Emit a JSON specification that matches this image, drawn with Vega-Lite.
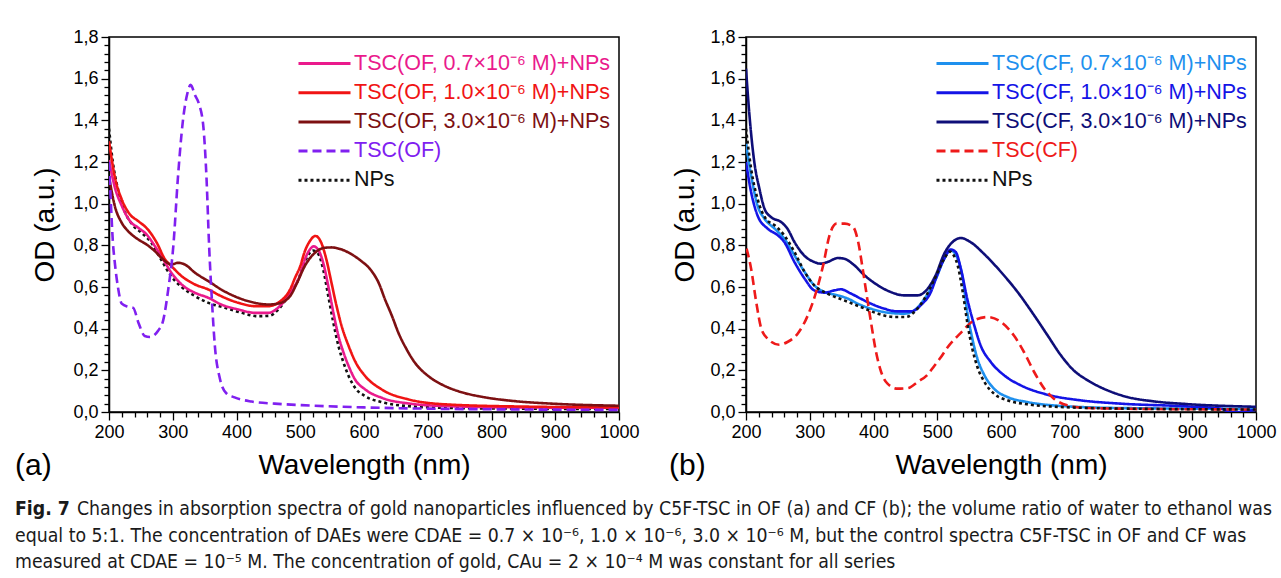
{
  "$schema": "https://vega.github.io/schema/vega-lite/v6.json",
  "background": "white",
  "padding": {"left": 14, "top": 27, "right": 0, "bottom": 0},
  "config": {
    "font": "Liberation Sans",
    "view": {"stroke": "black", "strokeWidth": 1.5},
    "axis": {"grid": false, "domainColor": "black", "domainWidth": 1.5, "tickColor": "black", "tickWidth": 1.3, "labelFont": "Liberation Sans", "labelFontSize": 18, "labelColor": "black", "titleFont": "Liberation Sans", "titleFontSize": 28, "titleFontWeight": "normal", "titleColor": "black", "labelOverlap": false, "labelFlush": false},
    "title": {"font": "Liberation Sans", "fontSize": 30, "fontWeight": "normal", "color": "black"}
  },
  "datasets": {
    "a": [
      {"series":"NPs","wl":200,"od":1.36},{"series":"NPs","wl":206,"od":1.2},{"series":"NPs","wl":214,"od":1.07},{"series":"NPs","wl":225,"od":0.96},{"series":"NPs","wl":238,"od":0.895},{"series":"NPs","wl":251,"od":0.86},{"series":"NPs","wl":267,"od":0.81},{"series":"NPs","wl":282,"od":0.73},{"series":"NPs","wl":298,"od":0.65},{"series":"NPs","wl":314,"od":0.6},{"series":"NPs","wl":335,"od":0.556},{"series":"NPs","wl":356,"od":0.524},{"series":"NPs","wl":382,"od":0.5},{"series":"NPs","wl":408,"od":0.476},{"series":"NPs","wl":434,"od":0.46},{"series":"NPs","wl":452,"od":0.462},{"series":"NPs","wl":465,"od":0.49},{"series":"NPs","wl":481,"od":0.556},{"series":"NPs","wl":497,"od":0.636},{"series":"NPs","wl":507,"od":0.72},{"series":"NPs","wl":520,"od":0.775},{"series":"NPs","wl":528,"od":0.76},{"series":"NPs","wl":536,"od":0.684},{"series":"NPs","wl":544,"od":0.556},{"series":"NPs","wl":552,"od":0.428},{"series":"NPs","wl":560,"od":0.316},{"series":"NPs","wl":568,"od":0.236},{"series":"NPs","wl":576,"od":0.172},{"series":"NPs","wl":586,"od":0.116},{"series":"NPs","wl":602,"od":0.076},{"series":"NPs","wl":628,"od":0.047},{"series":"NPs","wl":670,"od":0.028},{"series":"NPs","wl":732,"od":0.02},{"series":"NPs","wl":850,"od":0.016},{"series":"NPs","wl":1000,"od":0.014},
      {"series":"TSC(OF, 0.7×10⁻⁶ M)+NPs","wl":200,"od":1.21},{"series":"TSC(OF, 0.7×10⁻⁶ M)+NPs","wl":209,"od":1.08},{"series":"TSC(OF, 0.7×10⁻⁶ M)+NPs","wl":220,"od":0.99},{"series":"TSC(OF, 0.7×10⁻⁶ M)+NPs","wl":233,"od":0.916},{"series":"TSC(OF, 0.7×10⁻⁶ M)+NPs","wl":246,"od":0.884},{"series":"TSC(OF, 0.7×10⁻⁶ M)+NPs","wl":259,"od":0.852},{"series":"TSC(OF, 0.7×10⁻⁶ M)+NPs","wl":272,"od":0.796},{"series":"TSC(OF, 0.7×10⁻⁶ M)+NPs","wl":285,"od":0.732},{"series":"TSC(OF, 0.7×10⁻⁶ M)+NPs","wl":298,"od":0.668},{"series":"TSC(OF, 0.7×10⁻⁶ M)+NPs","wl":314,"od":0.612},{"series":"TSC(OF, 0.7×10⁻⁶ M)+NPs","wl":335,"od":0.572},{"series":"TSC(OF, 0.7×10⁻⁶ M)+NPs","wl":356,"od":0.548},{"series":"TSC(OF, 0.7×10⁻⁶ M)+NPs","wl":376,"od":0.516},{"series":"TSC(OF, 0.7×10⁻⁶ M)+NPs","wl":403,"od":0.492},{"series":"TSC(OF, 0.7×10⁻⁶ M)+NPs","wl":429,"od":0.476},{"series":"TSC(OF, 0.7×10⁻⁶ M)+NPs","wl":450,"od":0.476},{"series":"TSC(OF, 0.7×10⁻⁶ M)+NPs","wl":465,"od":0.5},{"series":"TSC(OF, 0.7×10⁻⁶ M)+NPs","wl":484,"od":0.572},{"series":"TSC(OF, 0.7×10⁻⁶ M)+NPs","wl":500,"od":0.66},{"series":"TSC(OF, 0.7×10⁻⁶ M)+NPs","wl":507,"od":0.73},{"series":"TSC(OF, 0.7×10⁻⁶ M)+NPs","wl":514,"od":0.775},{"series":"TSC(OF, 0.7×10⁻⁶ M)+NPs","wl":521,"od":0.795},{"series":"TSC(OF, 0.7×10⁻⁶ M)+NPs","wl":528,"od":0.78},{"series":"TSC(OF, 0.7×10⁻⁶ M)+NPs","wl":536,"od":0.716},{"series":"TSC(OF, 0.7×10⁻⁶ M)+NPs","wl":544,"od":0.604},{"series":"TSC(OF, 0.7×10⁻⁶ M)+NPs","wl":552,"od":0.476},{"series":"TSC(OF, 0.7×10⁻⁶ M)+NPs","wl":560,"od":0.364},{"series":"TSC(OF, 0.7×10⁻⁶ M)+NPs","wl":568,"od":0.284},{"series":"TSC(OF, 0.7×10⁻⁶ M)+NPs","wl":576,"od":0.22},{"series":"TSC(OF, 0.7×10⁻⁶ M)+NPs","wl":586,"od":0.156},{"series":"TSC(OF, 0.7×10⁻⁶ M)+NPs","wl":602,"od":0.108},{"series":"TSC(OF, 0.7×10⁻⁶ M)+NPs","wl":628,"od":0.068},{"series":"TSC(OF, 0.7×10⁻⁶ M)+NPs","wl":670,"od":0.041},{"series":"TSC(OF, 0.7×10⁻⁶ M)+NPs","wl":732,"od":0.028},{"series":"TSC(OF, 0.7×10⁻⁶ M)+NPs","wl":850,"od":0.022},{"series":"TSC(OF, 0.7×10⁻⁶ M)+NPs","wl":1000,"od":0.02},
      {"series":"TSC(OF, 1.0×10⁻⁶ M)+NPs","wl":200,"od":1.3},{"series":"TSC(OF, 1.0×10⁻⁶ M)+NPs","wl":209,"od":1.13},{"series":"TSC(OF, 1.0×10⁻⁶ M)+NPs","wl":220,"od":1.02},{"series":"TSC(OF, 1.0×10⁻⁶ M)+NPs","wl":233,"od":0.948},{"series":"TSC(OF, 1.0×10⁻⁶ M)+NPs","wl":246,"od":0.916},{"series":"TSC(OF, 1.0×10⁻⁶ M)+NPs","wl":261,"od":0.876},{"series":"TSC(OF, 1.0×10⁻⁶ M)+NPs","wl":275,"od":0.812},{"series":"TSC(OF, 1.0×10⁻⁶ M)+NPs","wl":288,"od":0.732},{"series":"TSC(OF, 1.0×10⁻⁶ M)+NPs","wl":298,"od":0.7},{"series":"TSC(OF, 1.0×10⁻⁶ M)+NPs","wl":314,"od":0.652},{"series":"TSC(OF, 1.0×10⁻⁶ M)+NPs","wl":335,"od":0.612},{"series":"TSC(OF, 1.0×10⁻⁶ M)+NPs","wl":356,"od":0.588},{"series":"TSC(OF, 1.0×10⁻⁶ M)+NPs","wl":376,"od":0.556},{"series":"TSC(OF, 1.0×10⁻⁶ M)+NPs","wl":403,"od":0.524},{"series":"TSC(OF, 1.0×10⁻⁶ M)+NPs","wl":429,"od":0.508},{"series":"TSC(OF, 1.0×10⁻⁶ M)+NPs","wl":450,"od":0.508},{"series":"TSC(OF, 1.0×10⁻⁶ M)+NPs","wl":465,"od":0.524},{"series":"TSC(OF, 1.0×10⁻⁶ M)+NPs","wl":484,"od":0.588},{"series":"TSC(OF, 1.0×10⁻⁶ M)+NPs","wl":492,"od":0.645},{"series":"TSC(OF, 1.0×10⁻⁶ M)+NPs","wl":500,"od":0.7},{"series":"TSC(OF, 1.0×10⁻⁶ M)+NPs","wl":507,"od":0.77},{"series":"TSC(OF, 1.0×10⁻⁶ M)+NPs","wl":515,"od":0.82},{"series":"TSC(OF, 1.0×10⁻⁶ M)+NPs","wl":524,"od":0.845},{"series":"TSC(OF, 1.0×10⁻⁶ M)+NPs","wl":533,"od":0.812},{"series":"TSC(OF, 1.0×10⁻⁶ M)+NPs","wl":541,"od":0.732},{"series":"TSC(OF, 1.0×10⁻⁶ M)+NPs","wl":549,"od":0.62},{"series":"TSC(OF, 1.0×10⁻⁶ M)+NPs","wl":557,"od":0.508},{"series":"TSC(OF, 1.0×10⁻⁶ M)+NPs","wl":565,"od":0.412},{"series":"TSC(OF, 1.0×10⁻⁶ M)+NPs","wl":576,"od":0.316},{"series":"TSC(OF, 1.0×10⁻⁶ M)+NPs","wl":586,"od":0.244},{"series":"TSC(OF, 1.0×10⁻⁶ M)+NPs","wl":602,"od":0.172},{"series":"TSC(OF, 1.0×10⁻⁶ M)+NPs","wl":628,"od":0.108},{"series":"TSC(OF, 1.0×10⁻⁶ M)+NPs","wl":670,"od":0.06},{"series":"TSC(OF, 1.0×10⁻⁶ M)+NPs","wl":732,"od":0.036},{"series":"TSC(OF, 1.0×10⁻⁶ M)+NPs","wl":850,"od":0.026},{"series":"TSC(OF, 1.0×10⁻⁶ M)+NPs","wl":1000,"od":0.022},
      {"series":"TSC(OF, 3.0×10⁻⁶ M)+NPs","wl":200,"od":1.13},{"series":"TSC(OF, 3.0×10⁻⁶ M)+NPs","wl":209,"od":0.99},{"series":"TSC(OF, 3.0×10⁻⁶ M)+NPs","wl":220,"od":0.908},{"series":"TSC(OF, 3.0×10⁻⁶ M)+NPs","wl":230,"od":0.868},{"series":"TSC(OF, 3.0×10⁻⁶ M)+NPs","wl":246,"od":0.828},{"series":"TSC(OF, 3.0×10⁻⁶ M)+NPs","wl":259,"od":0.804},{"series":"TSC(OF, 3.0×10⁻⁶ M)+NPs","wl":272,"od":0.772},{"series":"TSC(OF, 3.0×10⁻⁶ M)+NPs","wl":285,"od":0.732},{"series":"TSC(OF, 3.0×10⁻⁶ M)+NPs","wl":298,"od":0.708},{"series":"TSC(OF, 3.0×10⁻⁶ M)+NPs","wl":308,"od":0.716},{"series":"TSC(OF, 3.0×10⁻⁶ M)+NPs","wl":319,"od":0.708},{"series":"TSC(OF, 3.0×10⁻⁶ M)+NPs","wl":335,"od":0.668},{"series":"TSC(OF, 3.0×10⁻⁶ M)+NPs","wl":356,"od":0.628},{"series":"TSC(OF, 3.0×10⁻⁶ M)+NPs","wl":376,"od":0.588},{"series":"TSC(OF, 3.0×10⁻⁶ M)+NPs","wl":403,"od":0.548},{"series":"TSC(OF, 3.0×10⁻⁶ M)+NPs","wl":429,"od":0.524},{"series":"TSC(OF, 3.0×10⁻⁶ M)+NPs","wl":450,"od":0.516},{"series":"TSC(OF, 3.0×10⁻⁶ M)+NPs","wl":465,"od":0.52},{"series":"TSC(OF, 3.0×10⁻⁶ M)+NPs","wl":484,"od":0.556},{"series":"TSC(OF, 3.0×10⁻⁶ M)+NPs","wl":495,"od":0.62},{"series":"TSC(OF, 3.0×10⁻⁶ M)+NPs","wl":507,"od":0.7},{"series":"TSC(OF, 3.0×10⁻⁶ M)+NPs","wl":523,"od":0.764},{"series":"TSC(OF, 3.0×10⁻⁶ M)+NPs","wl":538,"od":0.788},{"series":"TSC(OF, 3.0×10⁻⁶ M)+NPs","wl":549,"od":0.79},{"series":"TSC(OF, 3.0×10⁻⁶ M)+NPs","wl":565,"od":0.78},{"series":"TSC(OF, 3.0×10⁻⁶ M)+NPs","wl":581,"od":0.756},{"series":"TSC(OF, 3.0×10⁻⁶ M)+NPs","wl":596,"od":0.724},{"series":"TSC(OF, 3.0×10⁻⁶ M)+NPs","wl":610,"od":0.684},{"series":"TSC(OF, 3.0×10⁻⁶ M)+NPs","wl":623,"od":0.62},{"series":"TSC(OF, 3.0×10⁻⁶ M)+NPs","wl":633,"od":0.54},{"series":"TSC(OF, 3.0×10⁻⁶ M)+NPs","wl":644,"od":0.46},{"series":"TSC(OF, 3.0×10⁻⁶ M)+NPs","wl":654,"od":0.38},{"series":"TSC(OF, 3.0×10⁻⁶ M)+NPs","wl":667,"od":0.3},{"series":"TSC(OF, 3.0×10⁻⁶ M)+NPs","wl":680,"od":0.236},{"series":"TSC(OF, 3.0×10⁻⁶ M)+NPs","wl":701,"od":0.172},{"series":"TSC(OF, 3.0×10⁻⁶ M)+NPs","wl":722,"od":0.132},{"series":"TSC(OF, 3.0×10⁻⁶ M)+NPs","wl":753,"od":0.095},{"series":"TSC(OF, 3.0×10⁻⁶ M)+NPs","wl":785,"od":0.073},{"series":"TSC(OF, 3.0×10⁻⁶ M)+NPs","wl":837,"od":0.052},{"series":"TSC(OF, 3.0×10⁻⁶ M)+NPs","wl":889,"od":0.041},{"series":"TSC(OF, 3.0×10⁻⁶ M)+NPs","wl":1000,"od":0.03},
      {"series":"TSC(OF)","wl":200,"od":1.2},{"series":"TSC(OF)","wl":203,"od":1.0},{"series":"TSC(OF)","wl":206,"od":0.82},{"series":"TSC(OF)","wl":209,"od":0.72},{"series":"TSC(OF)","wl":214,"od":0.6},{"series":"TSC(OF)","wl":220,"od":0.52},{"series":"TSC(OF)","wl":230,"od":0.505},{"series":"TSC(OF)","wl":238,"od":0.5},{"series":"TSC(OF)","wl":246,"od":0.43},{"series":"TSC(OF)","wl":256,"od":0.365},{"series":"TSC(OF)","wl":264,"od":0.36},{"series":"TSC(OF)","wl":277,"od":0.39},{"series":"TSC(OF)","wl":285,"od":0.44},{"series":"TSC(OF)","wl":293,"od":0.59},{"series":"TSC(OF)","wl":301,"od":0.8},{"series":"TSC(OF)","wl":308,"od":1.12},{"series":"TSC(OF)","wl":316,"od":1.4},{"series":"TSC(OF)","wl":323,"od":1.53},{"series":"TSC(OF)","wl":328,"od":1.57},{"series":"TSC(OF)","wl":335,"od":1.52},{"series":"TSC(OF)","wl":341,"od":1.48},{"series":"TSC(OF)","wl":348,"od":1.37},{"series":"TSC(OF)","wl":353,"od":1.12},{"series":"TSC(OF)","wl":357,"od":0.8},{"series":"TSC(OF)","wl":361,"od":0.56},{"series":"TSC(OF)","wl":366,"od":0.32},{"series":"TSC(OF)","wl":374,"od":0.16},{"series":"TSC(OF)","wl":384,"od":0.09},{"series":"TSC(OF)","wl":397,"od":0.07},{"series":"TSC(OF)","wl":424,"od":0.05},{"series":"TSC(OF)","wl":460,"od":0.04},{"series":"TSC(OF)","wl":502,"od":0.033},{"series":"TSC(OF)","wl":600,"od":0.022},{"series":"TSC(OF)","wl":700,"od":0.016},{"series":"TSC(OF)","wl":850,"od":0.012},{"series":"TSC(OF)","wl":1000,"od":0.01}
    ],
    "b": [
      {"series":"TSC(CF, 0.7×10⁻⁶ M)+NPs","wl":200,"od":1.288},{"series":"TSC(CF, 0.7×10⁻⁶ M)+NPs","wl":208,"od":1.136},{"series":"TSC(CF, 0.7×10⁻⁶ M)+NPs","wl":218,"od":0.992},{"series":"TSC(CF, 0.7×10⁻⁶ M)+NPs","wl":229,"od":0.928},{"series":"TSC(CF, 0.7×10⁻⁶ M)+NPs","wl":245,"od":0.88},{"series":"TSC(CF, 0.7×10⁻⁶ M)+NPs","wl":260,"od":0.832},{"series":"TSC(CF, 0.7×10⁻⁶ M)+NPs","wl":276,"od":0.752},{"series":"TSC(CF, 0.7×10⁻⁶ M)+NPs","wl":292,"od":0.672},{"series":"TSC(CF, 0.7×10⁻⁶ M)+NPs","wl":307,"od":0.608},{"series":"TSC(CF, 0.7×10⁻⁶ M)+NPs","wl":323,"od":0.576},{"series":"TSC(CF, 0.7×10⁻⁶ M)+NPs","wl":344,"od":0.56},{"series":"TSC(CF, 0.7×10⁻⁶ M)+NPs","wl":360,"od":0.544},{"series":"TSC(CF, 0.7×10⁻⁶ M)+NPs","wl":375,"od":0.52},{"series":"TSC(CF, 0.7×10⁻⁶ M)+NPs","wl":396,"od":0.496},{"series":"TSC(CF, 0.7×10⁻⁶ M)+NPs","wl":422,"od":0.477},{"series":"TSC(CF, 0.7×10⁻⁶ M)+NPs","wl":448,"od":0.472},{"series":"TSC(CF, 0.7×10⁻⁶ M)+NPs","wl":464,"od":0.488},{"series":"TSC(CF, 0.7×10⁻⁶ M)+NPs","wl":480,"od":0.544},{"series":"TSC(CF, 0.7×10⁻⁶ M)+NPs","wl":498,"od":0.64},{"series":"TSC(CF, 0.7×10⁻⁶ M)+NPs","wl":510,"od":0.73},{"series":"TSC(CF, 0.7×10⁻⁶ M)+NPs","wl":521,"od":0.776},{"series":"TSC(CF, 0.7×10⁻⁶ M)+NPs","wl":532,"od":0.736},{"series":"TSC(CF, 0.7×10⁻⁶ M)+NPs","wl":540,"od":0.64},{"series":"TSC(CF, 0.7×10⁻⁶ M)+NPs","wl":547,"od":0.48},{"series":"TSC(CF, 0.7×10⁻⁶ M)+NPs","wl":555,"od":0.352},{"series":"TSC(CF, 0.7×10⁻⁶ M)+NPs","wl":563,"od":0.256},{"series":"TSC(CF, 0.7×10⁻⁶ M)+NPs","wl":574,"od":0.176},{"series":"TSC(CF, 0.7×10⁻⁶ M)+NPs","wl":589,"od":0.112},{"series":"TSC(CF, 0.7×10⁻⁶ M)+NPs","wl":610,"od":0.072},{"series":"TSC(CF, 0.7×10⁻⁶ M)+NPs","wl":641,"od":0.048},{"series":"TSC(CF, 0.7×10⁻⁶ M)+NPs","wl":694,"od":0.029},{"series":"TSC(CF, 0.7×10⁻⁶ M)+NPs","wl":788,"od":0.019},{"series":"TSC(CF, 0.7×10⁻⁶ M)+NPs","wl":1000,"od":0.015},
      {"series":"TSC(CF, 1.0×10⁻⁶ M)+NPs","wl":200,"od":1.2},{"series":"TSC(CF, 1.0×10⁻⁶ M)+NPs","wl":208,"od":1.056},{"series":"TSC(CF, 1.0×10⁻⁶ M)+NPs","wl":218,"od":0.944},{"series":"TSC(CF, 1.0×10⁻⁶ M)+NPs","wl":234,"od":0.88},{"series":"TSC(CF, 1.0×10⁻⁶ M)+NPs","wl":250,"od":0.848},{"series":"TSC(CF, 1.0×10⁻⁶ M)+NPs","wl":260,"od":0.816},{"series":"TSC(CF, 1.0×10⁻⁶ M)+NPs","wl":276,"od":0.72},{"series":"TSC(CF, 1.0×10⁻⁶ M)+NPs","wl":292,"od":0.64},{"series":"TSC(CF, 1.0×10⁻⁶ M)+NPs","wl":307,"od":0.584},{"series":"TSC(CF, 1.0×10⁻⁶ M)+NPs","wl":323,"od":0.573},{"series":"TSC(CF, 1.0×10⁻⁶ M)+NPs","wl":339,"od":0.584},{"series":"TSC(CF, 1.0×10⁻⁶ M)+NPs","wl":349,"od":0.589},{"series":"TSC(CF, 1.0×10⁻⁶ M)+NPs","wl":365,"od":0.568},{"series":"TSC(CF, 1.0×10⁻⁶ M)+NPs","wl":380,"od":0.544},{"series":"TSC(CF, 1.0×10⁻⁶ M)+NPs","wl":396,"od":0.52},{"series":"TSC(CF, 1.0×10⁻⁶ M)+NPs","wl":417,"od":0.496},{"series":"TSC(CF, 1.0×10⁻⁶ M)+NPs","wl":438,"od":0.483},{"series":"TSC(CF, 1.0×10⁻⁶ M)+NPs","wl":459,"od":0.483},{"series":"TSC(CF, 1.0×10⁻⁶ M)+NPs","wl":475,"od":0.515},{"series":"TSC(CF, 1.0×10⁻⁶ M)+NPs","wl":490,"od":0.576},{"series":"TSC(CF, 1.0×10⁻⁶ M)+NPs","wl":499,"od":0.65},{"series":"TSC(CF, 1.0×10⁻⁶ M)+NPs","wl":511,"od":0.736},{"series":"TSC(CF, 1.0×10⁻⁶ M)+NPs","wl":521,"od":0.78},{"series":"TSC(CF, 1.0×10⁻⁶ M)+NPs","wl":529,"od":0.768},{"series":"TSC(CF, 1.0×10⁻⁶ M)+NPs","wl":537,"od":0.688},{"series":"TSC(CF, 1.0×10⁻⁶ M)+NPs","wl":547,"od":0.544},{"series":"TSC(CF, 1.0×10⁻⁶ M)+NPs","wl":558,"od":0.416},{"series":"TSC(CF, 1.0×10⁻⁶ M)+NPs","wl":568,"od":0.32},{"series":"TSC(CF, 1.0×10⁻⁶ M)+NPs","wl":584,"od":0.24},{"series":"TSC(CF, 1.0×10⁻⁶ M)+NPs","wl":605,"od":0.176},{"series":"TSC(CF, 1.0×10⁻⁶ M)+NPs","wl":631,"od":0.128},{"series":"TSC(CF, 1.0×10⁻⁶ M)+NPs","wl":673,"od":0.083},{"series":"TSC(CF, 1.0×10⁻⁶ M)+NPs","wl":725,"od":0.056},{"series":"TSC(CF, 1.0×10⁻⁶ M)+NPs","wl":788,"od":0.04},{"series":"TSC(CF, 1.0×10⁻⁶ M)+NPs","wl":892,"od":0.027},{"series":"TSC(CF, 1.0×10⁻⁶ M)+NPs","wl":945,"od":0.016},{"series":"TSC(CF, 1.0×10⁻⁶ M)+NPs","wl":960,"od":0.0},{"series":"TSC(CF, 1.0×10⁻⁶ M)+NPs","wl":975,"od":0.0},{"series":"TSC(CF, 1.0×10⁻⁶ M)+NPs","wl":986,"od":0.005},{"series":"TSC(CF, 1.0×10⁻⁶ M)+NPs","wl":1000,"od":0.01},
      {"series":"TSC(CF, 3.0×10⁻⁶ M)+NPs","wl":200,"od":1.648},{"series":"TSC(CF, 3.0×10⁻⁶ M)+NPs","wl":205,"od":1.44},{"series":"TSC(CF, 3.0×10⁻⁶ M)+NPs","wl":213,"od":1.2},{"series":"TSC(CF, 3.0×10⁻⁶ M)+NPs","wl":221,"od":1.072},{"series":"TSC(CF, 3.0×10⁻⁶ M)+NPs","wl":229,"od":0.976},{"series":"TSC(CF, 3.0×10⁻⁶ M)+NPs","wl":239,"od":0.936},{"series":"TSC(CF, 3.0×10⁻⁶ M)+NPs","wl":255,"od":0.912},{"series":"TSC(CF, 3.0×10⁻⁶ M)+NPs","wl":265,"od":0.88},{"series":"TSC(CF, 3.0×10⁻⁶ M)+NPs","wl":276,"od":0.816},{"series":"TSC(CF, 3.0×10⁻⁶ M)+NPs","wl":291,"od":0.752},{"series":"TSC(CF, 3.0×10⁻⁶ M)+NPs","wl":307,"od":0.72},{"series":"TSC(CF, 3.0×10⁻⁶ M)+NPs","wl":317,"od":0.712},{"series":"TSC(CF, 3.0×10⁻⁶ M)+NPs","wl":328,"od":0.72},{"series":"TSC(CF, 3.0×10⁻⁶ M)+NPs","wl":344,"od":0.739},{"series":"TSC(CF, 3.0×10⁻⁶ M)+NPs","wl":354,"od":0.736},{"series":"TSC(CF, 3.0×10⁻⁶ M)+NPs","wl":370,"od":0.704},{"series":"TSC(CF, 3.0×10⁻⁶ M)+NPs","wl":386,"od":0.656},{"series":"TSC(CF, 3.0×10⁻⁶ M)+NPs","wl":407,"od":0.608},{"series":"TSC(CF, 3.0×10⁻⁶ M)+NPs","wl":427,"od":0.576},{"series":"TSC(CF, 3.0×10⁻⁶ M)+NPs","wl":448,"od":0.56},{"series":"TSC(CF, 3.0×10⁻⁶ M)+NPs","wl":469,"od":0.56},{"series":"TSC(CF, 3.0×10⁻⁶ M)+NPs","wl":485,"od":0.592},{"series":"TSC(CF, 3.0×10⁻⁶ M)+NPs","wl":498,"od":0.66},{"series":"TSC(CF, 3.0×10⁻⁶ M)+NPs","wl":511,"od":0.76},{"series":"TSC(CF, 3.0×10⁻⁶ M)+NPs","wl":524,"od":0.816},{"series":"TSC(CF, 3.0×10⁻⁶ M)+NPs","wl":537,"od":0.835},{"series":"TSC(CF, 3.0×10⁻⁶ M)+NPs","wl":552,"od":0.816},{"series":"TSC(CF, 3.0×10⁻⁶ M)+NPs","wl":573,"od":0.76},{"series":"TSC(CF, 3.0×10⁻⁶ M)+NPs","wl":600,"od":0.672},{"series":"TSC(CF, 3.0×10⁻⁶ M)+NPs","wl":626,"od":0.576},{"series":"TSC(CF, 3.0×10⁻⁶ M)+NPs","wl":652,"od":0.464},{"series":"TSC(CF, 3.0×10⁻⁶ M)+NPs","wl":673,"od":0.368},{"series":"TSC(CF, 3.0×10⁻⁶ M)+NPs","wl":694,"od":0.272},{"series":"TSC(CF, 3.0×10⁻⁶ M)+NPs","wl":714,"od":0.2},{"series":"TSC(CF, 3.0×10⁻⁶ M)+NPs","wl":736,"od":0.152},{"series":"TSC(CF, 3.0×10⁻⁶ M)+NPs","wl":767,"od":0.104},{"series":"TSC(CF, 3.0×10⁻⁶ M)+NPs","wl":798,"od":0.072},{"series":"TSC(CF, 3.0×10⁻⁶ M)+NPs","wl":840,"od":0.051},{"series":"TSC(CF, 3.0×10⁻⁶ M)+NPs","wl":892,"od":0.038},{"series":"TSC(CF, 3.0×10⁻⁶ M)+NPs","wl":1000,"od":0.025},
      {"series":"TSC(CF)","wl":201,"od":0.784},{"series":"TSC(CF)","wl":208,"od":0.688},{"series":"TSC(CF)","wl":216,"od":0.528},{"series":"TSC(CF)","wl":224,"od":0.4},{"series":"TSC(CF)","wl":234,"od":0.352},{"series":"TSC(CF)","wl":252,"od":0.323},{"series":"TSC(CF)","wl":265,"od":0.336},{"series":"TSC(CF)","wl":281,"od":0.376},{"series":"TSC(CF)","wl":297,"od":0.464},{"series":"TSC(CF)","wl":310,"od":0.576},{"series":"TSC(CF)","wl":321,"od":0.704},{"series":"TSC(CF)","wl":331,"od":0.848},{"series":"TSC(CF)","wl":342,"od":0.904},{"series":"TSC(CF)","wl":355,"od":0.904},{"series":"TSC(CF)","wl":368,"od":0.888},{"series":"TSC(CF)","wl":376,"od":0.816},{"series":"TSC(CF)","wl":383,"od":0.688},{"series":"TSC(CF)","wl":391,"od":0.528},{"series":"TSC(CF)","wl":396,"od":0.432},{"series":"TSC(CF)","wl":404,"od":0.288},{"series":"TSC(CF)","wl":412,"od":0.192},{"series":"TSC(CF)","wl":422,"od":0.136},{"series":"TSC(CF)","wl":438,"od":0.112},{"series":"TSC(CF)","wl":454,"od":0.115},{"series":"TSC(CF)","wl":469,"od":0.144},{"series":"TSC(CF)","wl":485,"od":0.18},{"series":"TSC(CF)","wl":495,"od":0.22},{"series":"TSC(CF)","wl":505,"od":0.26},{"series":"TSC(CF)","wl":516,"od":0.31},{"series":"TSC(CF)","wl":537,"od":0.38},{"series":"TSC(CF)","wl":558,"od":0.44},{"series":"TSC(CF)","wl":579,"od":0.456},{"series":"TSC(CF)","wl":600,"od":0.432},{"series":"TSC(CF)","wl":620,"od":0.368},{"series":"TSC(CF)","wl":636,"od":0.288},{"series":"TSC(CF)","wl":652,"od":0.192},{"series":"TSC(CF)","wl":668,"od":0.112},{"series":"TSC(CF)","wl":683,"od":0.064},{"series":"TSC(CF)","wl":704,"od":0.032},{"series":"TSC(CF)","wl":736,"od":0.019},{"series":"TSC(CF)","wl":788,"od":0.016},{"series":"TSC(CF)","wl":1000,"od":0.012},
      {"series":"NPs","wl":200,"od":1.36},{"series":"NPs","wl":208,"od":1.168},{"series":"NPs","wl":218,"od":1.024},{"series":"NPs","wl":231,"od":0.928},{"series":"NPs","wl":245,"od":0.896},{"series":"NPs","wl":260,"od":0.848},{"series":"NPs","wl":276,"od":0.768},{"series":"NPs","wl":292,"od":0.672},{"series":"NPs","wl":307,"od":0.608},{"series":"NPs","wl":328,"od":0.568},{"series":"NPs","wl":354,"od":0.536},{"series":"NPs","wl":380,"od":0.504},{"series":"NPs","wl":407,"od":0.472},{"series":"NPs","wl":433,"od":0.456},{"series":"NPs","wl":451,"od":0.456},{"series":"NPs","wl":464,"od":0.48},{"series":"NPs","wl":480,"od":0.544},{"series":"NPs","wl":496,"od":0.64},{"series":"NPs","wl":510,"od":0.73},{"series":"NPs","wl":520,"od":0.77},{"series":"NPs","wl":524,"od":0.76},{"series":"NPs","wl":532,"od":0.704},{"series":"NPs","wl":540,"od":0.576},{"series":"NPs","wl":547,"od":0.432},{"series":"NPs","wl":555,"od":0.304},{"series":"NPs","wl":563,"od":0.216},{"series":"NPs","wl":574,"od":0.144},{"series":"NPs","wl":589,"od":0.088},{"series":"NPs","wl":610,"od":0.056},{"series":"NPs","wl":641,"od":0.037},{"series":"NPs","wl":694,"od":0.024},{"series":"NPs","wl":800,"od":0.016},{"series":"NPs","wl":1000,"od":0.012}
    ],
    "caption": [
      {"line": 1, "part": "bold", "text": "Fig. 7"},
      {"line": 1, "part": "rest", "text": "Changes in absorption spectra of gold nanoparticles influenced by C5F-TSC in OF (a) and CF (b); the volume ratio of water to ethanol was"},
      {"line": 2, "part": "full", "text": "equal to 5:1. The concentration of DAEs were CDAE = 0.7 × 10⁻⁶, 1.0 × 10⁻⁶, 3.0 × 10⁻⁶ M, but the control spectra C5F-TSC in OF and CF was"},
      {"line": 3, "part": "full", "text": "measured at CDAE = 10⁻⁵ M. The concentration of gold, CAu = 2 × 10⁻⁴ M was constant for all series"}
    ]
  },
  "vconcat": [
    {
      "hconcat": [
        {
          "width": 510, "height": 375,
          "data": {"name": "a"},
          "title": {"text": "(a)", "orient": "bottom", "anchor": "start", "frame": "group", "dx": -94, "dy": -32},
          "mark": {"type": "line", "interpolate": "monotone", "strokeWidth": 2.6, "clip": true},
          "encoding": {
            "x": {"field": "wl", "type": "quantitative", "title": "Wavelength (nm)", "scale": {"domain": [200, 1000], "nice": false},
              "axis": {"values": [200,220,240,260,280,300,320,340,360,380,400,420,440,460,480,500,520,540,560,580,600,620,640,660,680,700,720,740,760,780,800,820,840,860,880,900,920,940,960,980,1000], "format": "d", "labelExpr": "datum.value % 100 === 0 ? datum.label : ''", "tickSize": {"condition": {"test": "datum.value % 100 === 0", "value": 8}, "value": 5}, "labelPadding": 3, "titlePadding": 10}},
            "y": {"field": "od", "type": "quantitative", "title": "OD (a.u.)", "scale": {"domain": [0, 1.8], "nice": false},
              "axis": {"values": [0,0.04,0.08,0.12,0.16,0.2,0.24,0.28,0.32,0.36,0.4,0.44,0.48,0.52,0.56,0.6,0.64,0.68,0.72,0.76,0.8,0.84,0.88,0.92,0.96,1,1.04,1.08,1.12,1.16,1.2,1.24,1.28,1.32,1.36,1.4,1.44,1.48,1.52,1.56,1.6,1.64,1.68,1.72,1.76,1.8], "labelExpr": "abs(datum.value*5 - round(datum.value*5)) < 0.01 ? replace(format(datum.value, '.1f'), '.', ',') : ''", "tickSize": {"condition": {"test": "abs(datum.value*5 - round(datum.value*5)) < 0.01", "value": 8}, "value": 5}, "labelPadding": 3, "titlePadding": 13}},
            "color": {"field": "series", "type": "nominal",
              "scale": {"domain": ["TSC(OF, 0.7×10⁻⁶ M)+NPs", "TSC(OF, 1.0×10⁻⁶ M)+NPs", "TSC(OF, 3.0×10⁻⁶ M)+NPs", "TSC(OF)", "NPs"], "range": ["#ea1a8c", "#f01414", "#7d1012", "#8020f0", "#111111"]},
              "legend": {"title": null, "orient": "none", "legendX": 197, "legendY": 8, "symbolType": "M-1.53,0H1.53", "symbolSize": 1156, "symbolStrokeWidth": 3, "labelFont": "Liberation Sans", "labelFontSize": 21.5, "labelOffset": 11, "rowPadding": 0.2, "padding": 0, "labelLimit": 400,
                "encode": {"labels": {"update": {"fill": {"signal": "['#ea1a8c','#f01414','#7d1012','#8020f0','#111111'][datum.index]"}}}}}},
            "strokeDash": {"field": "series", "type": "nominal",
              "scale": {"domain": ["TSC(OF, 0.7×10⁻⁶ M)+NPs", "TSC(OF, 1.0×10⁻⁶ M)+NPs", "TSC(OF, 3.0×10⁻⁶ M)+NPs", "TSC(OF)", "NPs"], "range": [[1,0],[1,0],[1,0],[9,5],[3,3]]}}
          }
        },
        {
          "width": 510, "height": 375,
          "data": {"name": "b"},
          "title": {"text": "(b)", "orient": "bottom", "anchor": "start", "frame": "group", "dx": -77, "dy": -32},
          "mark": {"type": "line", "interpolate": "monotone", "strokeWidth": 2.6, "clip": true},
          "encoding": {
            "x": {"field": "wl", "type": "quantitative", "title": "Wavelength (nm)", "scale": {"domain": [200, 1000], "nice": false},
              "axis": {"values": [200,220,240,260,280,300,320,340,360,380,400,420,440,460,480,500,520,540,560,580,600,620,640,660,680,700,720,740,760,780,800,820,840,860,880,900,920,940,960,980,1000], "format": "d", "labelExpr": "datum.value % 100 === 0 ? datum.label : ''", "tickSize": {"condition": {"test": "datum.value % 100 === 0", "value": 8}, "value": 5}, "labelPadding": 3, "titlePadding": 10}},
            "y": {"field": "od", "type": "quantitative", "title": "OD (a.u.)", "scale": {"domain": [0, 1.8], "nice": false},
              "axis": {"values": [0,0.04,0.08,0.12,0.16,0.2,0.24,0.28,0.32,0.36,0.4,0.44,0.48,0.52,0.56,0.6,0.64,0.68,0.72,0.76,0.8,0.84,0.88,0.92,0.96,1,1.04,1.08,1.12,1.16,1.2,1.24,1.28,1.32,1.36,1.4,1.44,1.48,1.52,1.56,1.6,1.64,1.68,1.72,1.76,1.8], "labelExpr": "abs(datum.value*5 - round(datum.value*5)) < 0.01 ? replace(format(datum.value, '.1f'), '.', ',') : ''", "tickSize": {"condition": {"test": "abs(datum.value*5 - round(datum.value*5)) < 0.01", "value": 8}, "value": 5}, "labelPadding": 3, "titlePadding": 10}},
            "color": {"field": "series", "type": "nominal",
              "scale": {"domain": ["TSC(CF, 0.7×10⁻⁶ M)+NPs", "TSC(CF, 1.0×10⁻⁶ M)+NPs", "TSC(CF, 3.0×10⁻⁶ M)+NPs", "TSC(CF)", "NPs"], "range": ["#1e90ee", "#1414e6", "#0e0e78", "#ee1a1a", "#111111"]},
              "legend": {"title": null, "orient": "none", "legendX": 198, "legendY": 8, "symbolType": "M-1.53,0H1.53", "symbolSize": 1156, "symbolStrokeWidth": 3, "labelFont": "Liberation Sans", "labelFontSize": 21.5, "labelOffset": 11, "rowPadding": 0.2, "padding": 0, "labelLimit": 400,
                "encode": {"labels": {"update": {"fill": {"signal": "['#1e90ee','#1414e6','#0e0e78','#ee1a1a','#111111'][datum.index]"}}}}}},
            "strokeDash": {"field": "series", "type": "nominal",
              "scale": {"domain": ["TSC(CF, 0.7×10⁻⁶ M)+NPs", "TSC(CF, 1.0×10⁻⁶ M)+NPs", "TSC(CF, 3.0×10⁻⁶ M)+NPs", "TSC(CF)", "NPs"], "range": [[1,0],[1,0],[1,0],[9,5],[3,3]]}}
          }
        }
      ],
      "spacing": 127,
      "bounds": "flush",
      "resolve": {"scale": {"color": "independent", "strokeDash": "independent"}, "legend": {"color": "independent", "strokeDash": "independent"}}
    },
    {
      "width": 1260, "height": 79.5,
      "data": {"name": "caption"},
      "view": {"stroke": null},
      "encoding": {
        "y": {"field": "line", "type": "ordinal", "axis": null},
        "x": {"datum": 0, "type": "quantitative", "scale": {"domain": [0, 1]}, "axis": null},
        "text": {"field": "text"}
      },
      "layer": [
        {"transform": [{"filter": "datum.part === 'bold'"}], "mark": {"type": "text", "align": "left", "baseline": "middle", "font": "'DejaVu Sans Condensed', 'Noto Sans Condensed', 'Open Sans Condensed', 'Roboto Condensed', Roboto", "fontSize": 19.3, "fontWeight": "bold", "dx": -94, "color": "#1a1a1a"}},
        {"transform": [{"filter": "datum.part === 'rest'"}], "mark": {"type": "text", "align": "left", "baseline": "middle", "font": "'DejaVu Sans Condensed', 'Noto Sans Condensed', 'Open Sans Condensed', 'Roboto Condensed', Roboto", "fontSize": 19.3, "dx": -32, "color": "#1a1a1a"}},
        {"transform": [{"filter": "datum.part === 'full'"}], "mark": {"type": "text", "align": "left", "baseline": "middle", "font": "'DejaVu Sans Condensed', 'Noto Sans Condensed', 'Open Sans Condensed', 'Roboto Condensed', Roboto", "fontSize": 19.3, "dx": -94, "color": "#1a1a1a"}}
      ]
    }
  ],
  "spacing": 14
}
